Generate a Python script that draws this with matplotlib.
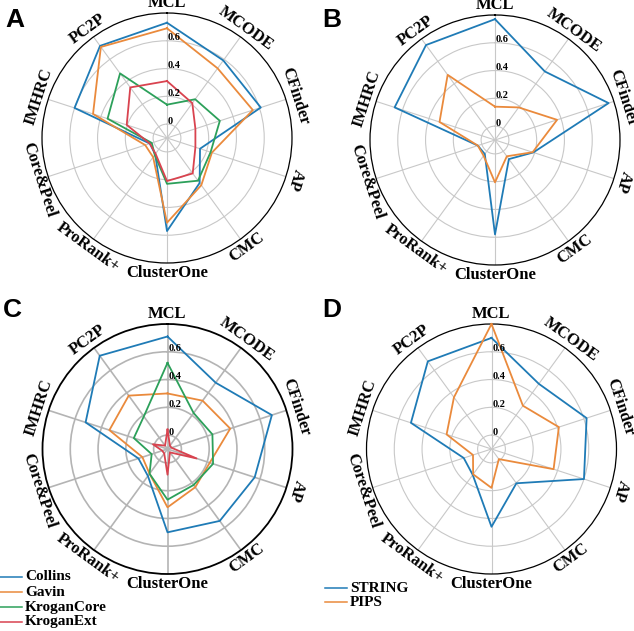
import numpy as np
import matplotlib.pyplot as plt
from matplotlib.lines import Line2D

plt.rcParams['font.family'] = ['Liberation Serif', 'DejaVu Serif']
plt.rcParams['font.weight'] = 'bold'

categories = ['MCL', 'MCODE', 'CFinder', 'AP', 'CMC', 'ClusterOne',
              'ProRank+', 'Core&Peel', 'IMHRC', 'PC2P']
radial_ticks = [0, 0.2, 0.4, 0.6]

# panel A / C series
names_ac = ['Collins', 'Gavin', 'KroganCore', 'KroganExt']
collins_a = [0.73, 0.59, 0.61, 0.15, 0.30, 0.57, 0.045, 0.03, 0.60, 0.72]
gavin_a = [0.69, 0.52, 0.55, 0.24, 0.32, 0.51, 0.07, 0.065, 0.46, 0.71]
krogancore_a = [0.14, 0.245, 0.30, 0.23, 0.28, 0.23, 0.05, 0.015, 0.35, 0.475]
kroganext_a = [0.31, 0.21, 0.115, 0.115, 0.215, 0.21, 0.04, 0.03, 0.205, 0.35]

collins_c = [0.71, 0.49, 0.69, 0.56, 0.54, 0.50, 0.14, 0.12, 0.52, 0.73]
gavin_c = [0.30, 0.33, 0.375, 0.22, 0.24, 0.32, 0.12, 0.09, 0.34, 0.375]
krogancore_c = [0.52, 0.22, 0.24, 0.245, 0.22, 0.265, 0.12, 0.02, 0.155, 0.19]
kroganext_c = [0.04, -0.07, -0.07, 0.12, -0.07, 0.085, -0.06, -0.06, 0.01, -0.07]

# panel B / D series
names_bd = ['STRING', 'PIPS']
string_b = [0.77, 0.51, 0.76, 0.19, 0.07, 0.58, 0.025, 0.03, 0.66, 0.745]
pips_b = [0.14, 0.19, 0.37, 0.185, 0.045, 0.205, 0.04, 0.03, 0.32, 0.48]

string_d = [0.70, 0.48, 0.62, 0.60, 0.205, 0.46, 0.13, 0.11, 0.51, 0.68]
pips_d = [0.80, 0.285, 0.41, 0.37, -0.01, 0.18, 0.125, 0.04, 0.24, 0.36]

colors = ['#1f7bb6', '#ea8a3c', '#2ca05a', '#d9434f']


def radar(ax, series, grid_color='#c8c8c8', grid_lw=0.8, rim_lw=0.9):
    n = len(categories)
    angles = np.arange(n) * 2 * np.pi / n
    ax.set_theta_zero_location('N')
    ax.set_theta_direction(-1)
    ax.set_ylim(-0.1, 0.8)
    ax.set_yticks(radial_ticks)
    ax.set_yticklabels([])
    ax.set_xticks(angles)
    ax.set_xticklabels([])
    ax.grid(color=grid_color, lw=grid_lw)
    ax.spines['polar'].set_color('black')
    ax.spines['polar'].set_linewidth(rim_lw)

    for vals, c in zip(series, colors):
        ax.plot(np.append(angles, angles[0]), np.append(vals, vals[0]),
                color=c, lw=1.3, clip_on=False, zorder=3)

    # category labels along the rim
    for a, lab in zip(angles, categories):
        deg = np.degrees(a)
        rot = -deg
        if 120 < deg < 270:
            rot += 180
        ax.text(a, 0.872, lab, rotation=rot, rotation_mode='anchor',
                ha='center', va='center', fontsize=12)

    for v in radial_ticks:
        ax.annotate(f'{v:g}', xy=(0, v), xytext=(1, 3), textcoords='offset pixels',
                    ha='left', va='center', fontsize=7.5, zorder=4)


fig = plt.figure(figsize=(6.34, 6.31), dpi=100)
W, H = 634, 631
R = 125
centers = [(167, 138), (495, 140), (167.5, 449), (491.5, 449)]
panel_data = [
    [collins_a, gavin_a, krogancore_a, kroganext_a],
    [string_b, pips_b],
    [collins_c, gavin_c, krogancore_c, kroganext_c],
    [string_d, pips_d],
]
grid_styles = [('#c8c8c8', 0.8, 0.9), ('#c8c8c8', 0.8, 0.9),
               ('#b4b4b4', 1.2, 1.3), ('#c8c8c8', 0.8, 0.9)]
letters = ['A', 'B', 'C', 'D']
letter_pos = [(5, 8), (322, 8), (3, 298), (322, 298)]

for (cx, cy), data, gs, let, (lx, ly) in zip(centers, panel_data, grid_styles,
                                             letters, letter_pos):
    ax = fig.add_axes([(cx - R) / W, (H - cy - R) / H, 2 * R / W, 2 * R / H],
                      projection='polar')
    radar(ax, data, *gs)
    fig.text(lx / W, 1 - ly / H, let, fontsize=19, fontweight='bold',
             family='Liberation Sans', ha='left', va='top')

# legends drawn as plain lines + text
def legend(names, x0, x1, ys):
    for name, c, y in zip(names, colors, ys):
        fig.add_artist(Line2D([x0 / W, x1 / W], [1 - y / H, 1 - y / H],
                              color=c, lw=1.1, transform=fig.transFigure))
        fig.text((x1 + 3) / W, 1 - y / H, name, fontsize=11, ha='left', va='center')

legend(names_ac, 0, 22, [577, 592, 607, 622])
legend(names_bd, 325, 347, [588, 602])

fig.savefig('out.png', dpi=100)
